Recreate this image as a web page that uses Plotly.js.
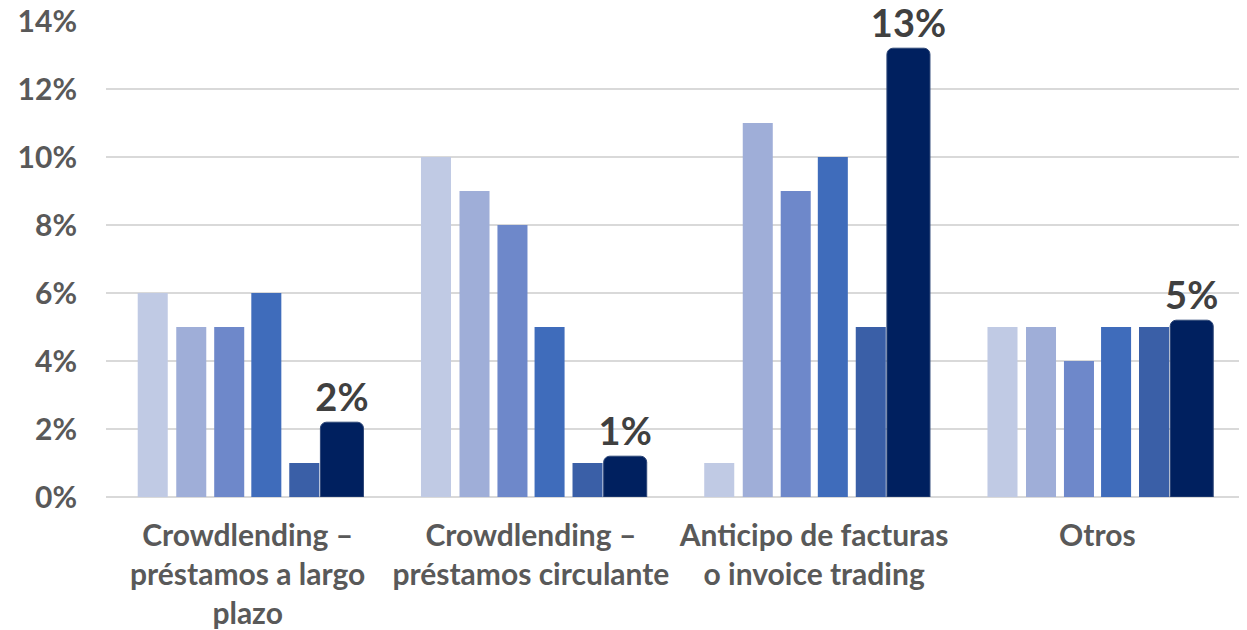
<!DOCTYPE html>
<html>
<head>
<meta charset="utf-8">
<script src="https://cdn.plot.ly/plotly-3.0.1.min.js"></script>
<style>
  html, body { margin: 0; padding: 0; background: #fff; }
  #plot { width: 1247px; height: 630px; }
</style>
</head>
<body>
<div id="plot"></div>
<script>
// categorías (con saltos de línea como en el original)
const categories = [
  'Crowdlending –<br>préstamos a largo<br>plazo',
  'Crowdlending –<br>préstamos circulante',
  'Anticipo de facturas<br>o invoice trading',
  'Otros'
];

// valores en %, seis series por categoría
const serie1 = [6, 10, 1, 5];
const serie2 = [5, 9, 11, 5];
const serie3 = [5, 8, 9, 4];
const serie4 = [6, 5, 10, 5];
const serie5 = [1, 1, 5, 5];
const serie6 = [2.2, 1.2, 13.2, 5.2];

const yTicks = [0, 2, 4, 6, 8, 10, 12, 14];
const yTickText = yTicks.map(v => v + '%');

// estilo de cada barra dentro del grupo
const colores = ['#C0CAE4', '#9FAED8', '#6E88CA', '#3F6CBB', '#3A5FA7', '#00205F'];
const offsets = [-0.388, -0.252, -0.118, 0.013, 0.147, 0.257];
const anchos = [0.106, 0.106, 0.106, 0.106, 0.106, 0.152];

const series = [serie1, serie2, serie3, serie4, serie5, serie6];

const traces = series.map((vals, i) => {
  const t = {
    type: 'bar',
    x: categories,
    y: vals,
    offset: offsets[i],
    width: anchos[i],
    marker: { color: colores[i], line: { width: 0 } },
    hoverinfo: 'y'
  };
  if (i === series.length - 1) {
    // la última serie lleva esquinas redondeadas y etiqueta
    t.marker.cornerradius = 6;
    t.marker.line = { width: 1, color: '#2E4778' };
    t.texttemplate = '%{y:.0f}%';
    t.textposition = 'outside';
    t.constraintext = 'none';
    t.cliponaxis = false;
    t.outsidetextfont = { family: 'Lato', size: 38, weight: 700, color: '#404040' };
  }
  return t;
});

const layout = {
  width: 1247,
  height: 630,
  margin: { l: 106, r: 8, t: 21, b: 133 },
  paper_bgcolor: '#fff',
  plot_bgcolor: '#fff',
  barmode: 'overlay',
  showlegend: false,
  font: { family: 'Lato', color: '#595959' },
  xaxis: {
    type: 'category',
    showgrid: false,
    showline: false,
    ticks: '',
    tickangle: 0,
    ticklabelstandoff: 18,
    tickfont: { family: 'Lato', size: 30, weight: 700, color: '#595959' },
    fixedrange: true
  },
  yaxis: {
    range: [0, 14],
    tickvals: yTicks,
    ticktext: yTickText,
    showgrid: true,
    gridcolor: '#D9D9D9',
    gridwidth: 1.5,
    zeroline: true,
    zerolinecolor: '#D9D9D9',
    zerolinewidth: 1.5,
    showline: false,
    ticks: '',
    ticklabelstandoff: 28,
    tickfont: { family: 'Lato', size: 30, weight: 700, color: '#595959' },
    fixedrange: true
  }
};

Plotly.newPlot('plot', traces, layout, { displayModeBar: false, staticPlot: true });
</script>
</body>
</html>
